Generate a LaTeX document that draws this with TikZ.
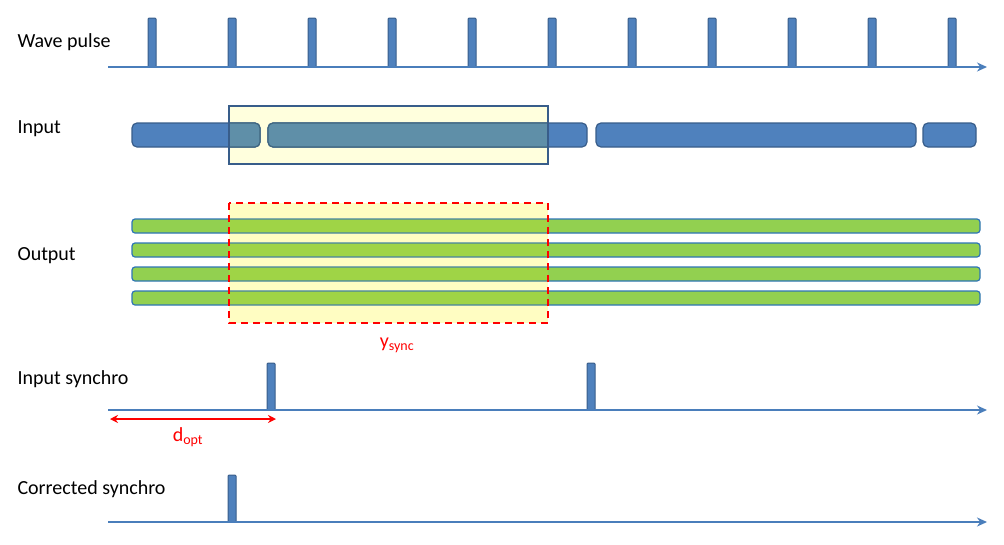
\documentclass[tikz,border=0pt]{standalone}
\usepackage{fontspec}
\setmainfont{Carlito}
\usetikzlibrary{arrows.meta}
\definecolor{pblue}{HTML}{4F81BD}
\definecolor{dblue}{HTML}{385D8A}
\definecolor{axblue}{HTML}{4A7EBB}
\definecolor{pgreen}{HTML}{92D050}
\definecolor{gborder}{HTML}{2E75B6}
\definecolor{lyellow}{HTML}{FFFFDD}
\definecolor{teal}{HTML}{5F8FA8}
\definecolor{tealb}{HTML}{3F6680}
\begin{document}
\begin{tikzpicture}[x=1pt,y=-1pt,
  lbl/.style={anchor=west,font=\fontsize{20}{24}\selectfont},
  axis/.style={draw=axblue,line width=1.5pt,-{Stealth[length=10pt,width=9pt]}},
  pulse/.style={draw=dblue,fill=pblue,line width=1pt,rounded corners=1pt},
  inbar/.style={draw=dblue,fill=pblue,line width=1.2pt,rounded corners=5pt},
  outbar/.style={draw=gborder,fill=pgreen,line width=1.2pt,rounded corners=3pt}]
\useasboundingbox (0,0) rectangle (1004,544);
% labels
\node[lbl] (l1) at (14,42) {Wave pulse};
\node[lbl] (l2) at (14,129) {Input};
\node[lbl] (l3) at (14,256) {Output};
\node[lbl] (l4) at (14,379) {Input synchro};
\node[lbl] (l5) at (14,489) {Corrected synchro};
% wave pulse
\coordinate (a1s) at (108,67); \coordinate (a1e) at (987,67);
\foreach \x in {152,232,...,952} \draw[pulse] (\x-4,18) rectangle (\x+4,67);
\draw[axis] (a1s) -- (a1e);
% input
\fill[lyellow] (229,106) rectangle (548,164);
\draw[inbar] (132,123) rectangle (260,147);
\draw[inbar] (268,123) rectangle (587,147);
\draw[inbar] (596,123) rectangle (916,147);
\draw[inbar] (923,123) rectangle (976,147);
\begin{scope}
\clip (229,106) rectangle (548,164);
\draw[inbar,fill=teal,draw=tealb] (132,123) rectangle (260,147);
\draw[inbar,fill=teal,draw=tealb] (268,123) rectangle (587,147);
\end{scope}
\draw[draw=dblue,line width=1.5pt] (229,106) rectangle (548,164);
% output
\fill[lyellow] (229,203) rectangle (548,323);
\foreach \y in {219,243,267,291} \draw[outbar] (132,\y) rectangle (980,\y+14);
\fill[yellow,opacity=0.12] (229,203) rectangle (548,323);
\draw[red,line width=2pt,dash pattern=on 7pt off 5pt] (229,203) rectangle (548,323);
\node[red,font=\fontsize{20}{24}\selectfont] (ys) at (397,345) {y\textsubscript{sync}};
% input synchro
\coordinate (a2s) at (108,410); \coordinate (a2e) at (987,410);
\draw[pulse] (267,363) rectangle (275,410);
\draw[pulse] (587,363) rectangle (595,410);
\draw[axis] (a2s) -- (a2e);
\coordinate (d1) at (110,419); \coordinate (d2) at (276,419);
\draw[red,line width=1.8pt,{Stealth[length=8pt,width=8pt]}-{Stealth[length=8pt,width=8pt]}] (d1) -- (d2);
\node[red,font=\fontsize{20}{24}\selectfont] (dopt) at (188,437) {d\textsubscript{opt}};
% corrected
\coordinate (a3s) at (108,522); \coordinate (a3e) at (987,522);
\draw[pulse] (228,475) rectangle (236,522);
\draw[axis] (a3s) -- (a3e);
\end{tikzpicture}
\end{document}
